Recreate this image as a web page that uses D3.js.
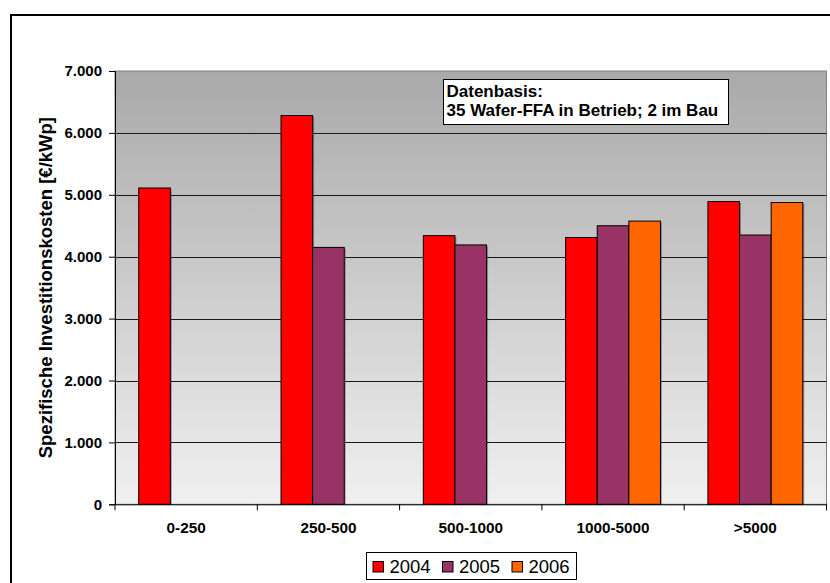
<!DOCTYPE html>
<html>
<head>
<meta charset="utf-8">
<script src="https://cdn.jsdelivr.net/npm/d3@7"></script>
<style>
  html, body { margin: 0; padding: 0; background: #fff; }
  svg { display: block; font-family: "Liberation Sans", Arial, sans-serif; }
</style>
</head>
<body>
<svg id="chart" width="830" height="583"></svg>
<script>
// Anlagengrößenklassen (kWp) und spezifische Investitionskosten (€/kWp)
const categories = ["0-250", "250-500", "500-1000", "1000-5000", ">5000"];
const years = ["2004", "2005", "2006"];
const values2004 = [5110, 6280, 4340, 4310, 4890];
const values2005 = [null, 4150, 4190, 4500, 4350];
const values2006 = [null, null, null, 4575, 4875];
const yTicks = [0, 1000, 2000, 3000, 4000, 5000, 6000, 7000];
const seriesColors = ["#FF0000", "#993366", "#FF6600"];
const noteLines = ["Datenbasis:", "35 Wafer-FFA in Betrieb; 2 im Bau"];
const yTitle = "Spezifische Investitionskosten [€/kWp]";

const series = [values2004, values2005, values2006];
const FONT = "'Liberation Sans', Arial, sans-serif";

const svg = d3.select("#chart");
const plot = { left: 115, right: 826.5, top: 71, bottom: 504.3 };

// Außenrahmen
svg.append("rect")
  .attr("x", 11).attr("y", 15)
  .attr("width", 830).attr("height", 600)
  .attr("fill", "#fff").attr("stroke", "#000").attr("stroke-width", 2);

// Hintergrund der Zeichenfläche mit Verlauf
const defs = svg.append("defs");
const grad = defs.append("linearGradient").attr("id", "bg")
  .attr("x1", 0).attr("y1", 0).attr("x2", 0).attr("y2", 1);
grad.append("stop").attr("offset", "0%").attr("stop-color", "#a9a9a9");
grad.append("stop").attr("offset", "100%").attr("stop-color", "#f0f0f0");

const x0 = d3.scaleBand().domain(categories).range([plot.left, plot.right]).paddingInner(0).paddingOuter(0);
const barW = x0.bandwidth() / 4.5;
const x1 = d3.scaleBand().domain(years).range([0.75 * barW, 3.75 * barW]).padding(0);
const y = d3.scaleLinear().domain([0, 7000]).range([plot.bottom, plot.top]);

svg.append("rect")
  .attr("x", plot.left).attr("y", plot.top)
  .attr("width", plot.right - plot.left).attr("height", plot.bottom - plot.top)
  .attr("fill", "url(#bg)").attr("stroke", "#808080").attr("stroke-width", 1);

// Gitternetzlinien
svg.append("g").selectAll("line")
  .data(yTicks.filter(t => t > 0 && t < 7000))
  .join("line")
  .attr("x1", plot.left).attr("x2", plot.right)
  .attr("y1", d => Math.round(y(d)) + 0.5).attr("y2", d => Math.round(y(d)) + 0.5)
  .attr("stroke", "#1a1a1a").attr("stroke-width", 1);

// Balken mit leichtem Schatten
const groups = svg.append("g").selectAll("g")
  .data(categories)
  .join("g")
  .attr("transform", c => `translate(${x0(c)},0)`);

const barData = (c, i) => years.map((yr, k) => ({ yr, k, v: series[k][i] })).filter(d => d.v != null);

groups.each(function(c, i) {
  const g = d3.select(this);
  const data = barData(c, i);
  g.selectAll("rect.shadow").data(data).join("rect")
    .attr("class", "shadow")
    .attr("x", d => x1(d.yr) + 1.5).attr("y", d => y(d.v) + 1.5)
    .attr("width", x1.bandwidth()).attr("height", d => y(0) - y(d.v) - 1.5)
    .attr("fill", "#000").attr("opacity", 0.3);
  g.selectAll("rect.bar").data(data).join("rect")
    .attr("class", "bar")
    .attr("x", d => x1(d.yr)).attr("y", d => y(d.v))
    .attr("width", x1.bandwidth()).attr("height", d => y(0) - y(d.v))
    .attr("fill", d => seriesColors[d.k]).attr("stroke", "#000").attr("stroke-width", 1);
});

// Y-Achse
const yAxis = d3.axisLeft(y).tickValues(yTicks).tickSize(6).tickPadding(7)
  .tickFormat(d => d3.format(",")(d).replace(/,/g, "."));
const gy = svg.append("g").attr("transform", `translate(${plot.left},0)`).call(yAxis);
gy.attr("font-family", FONT).attr("font-size", 15);
gy.select(".domain").attr("stroke", "#000");
gy.selectAll(".tick line").attr("stroke", "#000");
gy.selectAll(".tick text").attr("fill", "#000").attr("font-weight", "bold");

// X-Achse
const xAxis = d3.axisBottom(x0).tickSize(0).tickPadding(18);
const gx = svg.append("g").attr("transform", `translate(0,${plot.bottom})`).call(xAxis);
gx.attr("font-family", FONT).attr("font-size", 15.3);
gx.select(".domain").attr("stroke", "#000");
gx.selectAll(".tick text").attr("fill", "#000").attr("font-weight", "bold");
// Trennstriche zwischen den Kategorien
svg.append("g").selectAll("line")
  .data(categories.concat(["end"]))
  .join("line")
  .attr("x1", (c, i) => i < categories.length ? x0(c) : plot.right)
  .attr("x2", (c, i) => i < categories.length ? x0(c) : plot.right)
  .attr("y1", plot.bottom).attr("y2", plot.bottom + 6)
  .attr("stroke", "#000");

// Achsentitel
svg.append("text")
  .attr("transform", `translate(51.5,${(plot.top + plot.bottom) / 2}) rotate(-90)`)
  .attr("text-anchor", "middle")
  .attr("font-family", FONT)
  .attr("font-size", 18.5).attr("font-weight", "bold").attr("fill", "#000")
  .text(yTitle);

// Hinweisbox
const note = svg.append("g");
note.append("rect")
  .attr("x", 443.5).attr("y", 79.5).attr("width", 285).attr("height", 45)
  .attr("fill", "#fff").attr("stroke", "#000");
note.selectAll("text").data(noteLines).join("text")
  .attr("x", 446.5).attr("y", (d, i) => 97 + i * 18.5)
  .attr("font-family", FONT)
  .attr("font-size", 17).attr("font-weight", "bold").attr("fill", "#000")
  .text(d => d);

// Legende
const legend = svg.append("g");
legend.append("rect")
  .attr("x", 366.5).attr("y", 552.5).attr("width", 210).attr("height", 27)
  .attr("fill", "#fff").attr("stroke", "#000");
const items = legend.selectAll("g").data(years).join("g")
  .attr("transform", (d, i) => `translate(${372.5 + i * 69.5},561)`);
items.append("rect")
  .attr("x", 0.5).attr("y", 0.5).attr("width", 10.5).attr("height", 10.5)
  .attr("fill", (d, i) => seriesColors[i]).attr("stroke", "#000");
items.append("text")
  .attr("x", 17).attr("y", 12)
  .attr("font-family", FONT)
  .attr("font-size", 18.5).attr("fill", "#000")
  .text(d => d);
</script>
</body>
</html>
